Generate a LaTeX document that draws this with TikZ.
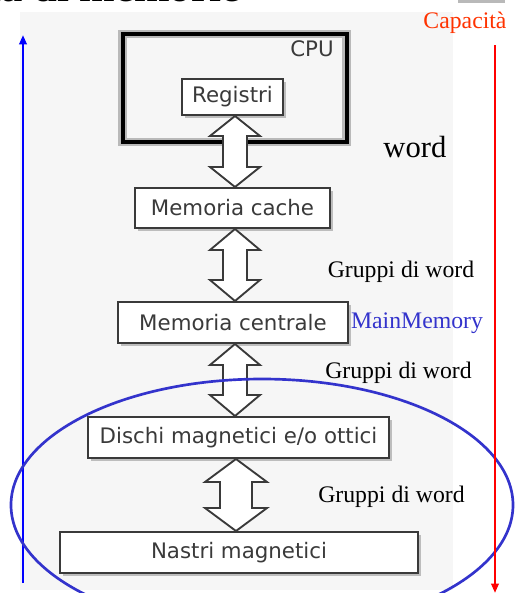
\documentclass[tikz,border=0pt]{standalone}
\usepackage{fontspec}
\setmainfont{Liberation Serif}
\newfontfamily\boxfont{DejaVu Sans}
\usetikzlibrary{calc,arrows.meta,shadows}

\definecolor{scan}{HTML}{F6F6F6}
\definecolor{ink}{HTML}{3A3A3A}
\definecolor{capred}{HTML}{FF3300}
\definecolor{mmblue}{HTML}{3333CC}

% hollow double-headed block arrow between two stacked boxes
% #1 upper node, #2 lower node, #3 coordinate giving the axis,
% #4 head half-width, #5 shaft half-width, #6 head length
\newcommand\blockarrow[6]{%
  \draw[barrow] let \p1=(#1.south -| #3), \p2=(#2.north -| #3) in
    (\p1) -- ++(#4,#6) -- ++({-(#4-#5)},0) -- ($(\p2)+(#5,-#6)$)
    -- ++({#4-#5},0) -- (\p2) -- ++({-#4},{-#6}) -- ++({#4-#5},0)
    -- ($(\p1)+(-#5,#6)$) -- ++({-(#4-#5)},0) -- cycle;}

\begin{document}
\begin{tikzpicture}[x=0.75pt,y=-0.75pt,
  membox/.style={draw=ink, line width=1.5pt, fill=white, text=ink,
    font=\boxfont\fontsize{16}{19}\selectfont, inner sep=0pt,
    drop shadow={shadow xshift=2.2pt, shadow yshift=-2.2pt, fill=gray!70, opacity=0.7}},
  note/.style={font=\fontsize{17.8}{20}\selectfont, anchor=base, inner sep=0pt},
  barrow/.style={draw=ink, line width=1.4pt, fill=white, line join=miter},
  axisline/.style={line width=2pt, -{Triangle[length=7pt,width=5.5pt]}}]

\useasboundingbox (0,0) rectangle (515,593);
\clip (0,0) rectangle (515,593);

% page background
\fill[white] (0,0) rectangle (515,593);
\fill[scan] (20,12) rectangle (453,590);
\fill[gray!55] (458,0) rectangle (505,3);

% heading (runs off the top edge)
\node[font=\bfseries\fontsize{32}{36}\selectfont, anchor=base east, inner sep=0pt]
  (title) at (241,1.5) {Gerarchia di memorie};

% CPU enclosure
\node[draw=gray!55, line width=6.5pt, minimum width=168pt, minimum height=81pt,
  inner sep=0pt, postaction={draw=black, line width=3pt}] (cpu) at (234.5,88) {};
\node[font=\boxfont\fontsize{16}{19}\selectfont, text=ink, inner sep=0pt] (cpulbl) at (312,49) {CPU};

% memory levels
\node[membox, minimum width=75.75pt, minimum height=27pt]   (reg)   at (232.5,97)   {Registri};
\node[membox, minimum width=146.25pt, minimum height=30pt]  (cache) at (232.5,208)  {Memoria cache};
\node[membox, minimum width=172.5pt, minimum height=30.75pt](main)  at (233,322.5)  {Memoria centrale};
\node[membox, minimum width=225.75pt, minimum height=30.75pt](disk) at (238.5,437.5){Dischi magnetici e/o ottici};
\node[membox, minimum width=268.5pt, minimum height=30.75pt](tape)  at (239,552.5)  {Nastri magnetici};

% transfer arrows
\coordinate (axA) at (235,0);
\coordinate (axB) at (236,0);
\blockarrow{reg}{cache}{axA}{25}{12}{20}
\blockarrow{cache}{main}{axA}{25}{12}{21}
\blockarrow{main}{disk}{axA}{25}{12}{21}
\blockarrow{disk}{tape}{axB}{31}{16}{23}

% transfer unit labels
\node[font=\fontsize{23}{26}\selectfont, anchor=base, inner sep=0pt] (w1) at (415,157) {word};
\node[note] (g1) at (401,277) {Gruppi di word};
\node[note, text=mmblue] (mm) at (417,328) {MainMemory};
\node[note] (g2) at (398.5,378) {Gruppi di word};
\node[note] (g3) at (391.5,502) {Gruppi di word};

% side axes
\coordinate (bluebot) at (23,583);
\coordinate (bluetop) at (23,35);
\draw[axisline, blue] (bluebot) -- (bluetop);

% mass storage group
\draw[mmblue, line width=2pt] (262,505) ellipse [x radius=188.25pt, y radius=94.5pt];

\node[note, text=capred] (cap) at (465,28) {Capacità};
\coordinate (redtop) at (495,45);
\coordinate (redbot) at (495,593);
\draw[axisline, red] (redtop) -- (redbot);
\end{tikzpicture}
\end{document}
